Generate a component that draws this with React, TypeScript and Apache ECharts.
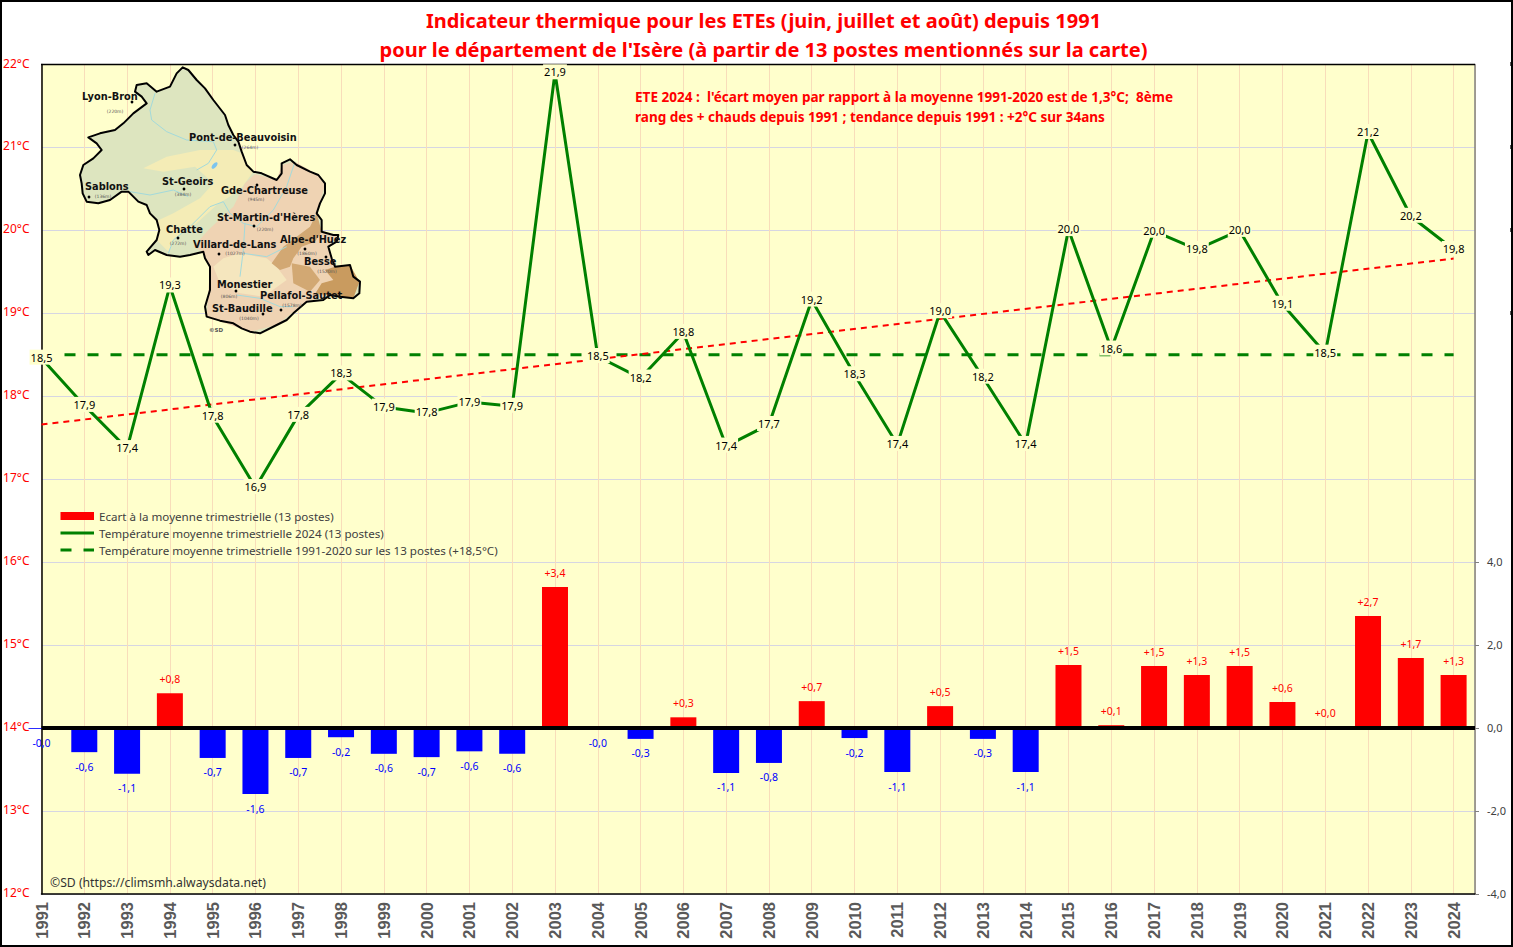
import React, { useEffect, useRef } from "react";
import * as echarts from "echarts";

const years = [1991,1992,1993,1994,1995,1996,1997,1998,1999,2000,2001,2002,2003,2004,2005,2006,2007,2008,2009,2010,2011,2012,2013,2014,2015,2016,2017,2018,2019,2020,2021,2022,2023,2024];
const temperatures = [18.46,17.89,17.37,19.33,17.76,16.9,17.77,18.27,17.87,17.8,17.93,17.88,21.9,18.48,18.22,18.77,17.4,17.66,19.16,18.26,17.42,19.02,18.23,17.42,20.01,18.57,19.99,19.77,20.0,19.11,18.52,21.18,20.17,19.77];
const anomalies = [-0.02,-0.58,-1.1,0.84,-0.72,-1.59,-0.72,-0.22,-0.62,-0.7,-0.56,-0.62,3.4,-0.02,-0.26,0.26,-1.08,-0.84,0.65,-0.24,-1.06,0.53,-0.26,-1.06,1.52,0.07,1.5,1.28,1.5,0.63,0.02,2.7,1.69,1.28];
const normalValue = 18.5;
const trendYears = [1991, 2024];
const trendValues = [17.66, 19.66];
const rightTicks = [-4, -2, 0, 2, 4];

const nameBars = "Ecart à la moyenne trimestrielle (13 postes)";
const nameLine = "Température moyenne trimestrielle 2024 (13 postes)";
const nameNormal = "Température moyenne trimestrielle 1991-2020 sur les 13 postes (+18,5°C)";
const titleLines = ["Indicateur thermique pour les ETEs (juin, juillet et août) depuis 1991", "pour le département de l'Isère (à partir de 13 postes mentionnés sur la carte)"];
const noteLines = ["ETE 2024 :  l'écart moyen par rapport à la moyenne 1991-2020 est de 1,3°C;  8ème", "rang des + chauds depuis 1991 ; tendance depuis 1991 : +2°C sur 34ans"];

// Illustration: the map of Isère, traced in the picture (page pixels x3, from y=50)
const mapOutline = [[548,52],[565,60],[590,90],[615,115],[640,150],[675,195],[685,225],[700,255],[715,275],[725,305],[740,345],[760,365],[785,370],[830,390],[845,370],[845,340],[870,328],[890,345],[930,365],[955,375],[975,400],[975,430],[960,460],[950,490],[965,510],[965,545],[1000,555],[1015,555],[1010,575],[985,590],[995,625],[1005,650],[1050,645],[1060,680],[1080,695],[1078,730],[1060,745],[1020,740],[990,735],[970,750],[920,755],[880,790],[860,810],[830,825],[780,850],[750,845],[725,835],[700,820],[660,812],[620,800],[615,770],[630,720],[630,650],[615,625],[610,605],[570,615],[540,620],[500,615],[465,600],[445,615],[440,605],[470,570],[478,540],[470,510],[450,490],[440,465],[415,455],[385,425],[365,425],[330,450],[295,460],[260,455],[248,430],[245,400],[240,375],[250,345],[280,325],[305,300],[290,280],[265,262],[300,250],[345,240],[370,220],[400,190],[440,160],[425,140],[405,125],[410,105],[440,100],[470,125],[510,110],[530,70]];
const mapYellow = [[430,355],[500,320],[600,300],[700,300],[725,310],[740,345],[760,365],[720,420],[650,465],[590,520],[530,560],[505,605],[470,570],[478,540],[472,512],[520,490],[600,445],[640,400],[585,350],[490,365]];
const mapPink = [[580,590],[625,540],[700,470],[735,400],[765,372],[830,390],[845,345],[885,335],[955,375],[975,405],[950,490],[965,545],[1010,560],[985,590],[1005,650],[1050,645],[1078,695],[1060,745],[990,735],[920,755],[830,825],[750,845],[620,800],[630,650],[610,605]];
const mapPale = [[720,610],[800,625],[830,650],[860,690],[790,740],[720,730],[660,700],[640,650],[670,625]];
const mapBrownA = [[1005,650],[1050,645],[1078,695],[1060,745],[990,735],[945,732],[965,700],[1000,690],[975,660]];
const mapBrownB = [[950,490],[965,545],[945,575],[905,590],[880,625],[870,650],[840,660],[815,640],[850,590],[890,560],[930,530]];
const mapBrownC = [[875,640],[930,650],[960,690],[930,725],[880,700]];
const mapRivers = [
  [[465,130],[450,180],[455,210],[500,245],[560,270],[640,275],[650,300],[625,340],[590,360]],
  [[885,335],[860,410],[820,480],[770,530],[730,520],[690,490],[670,455],[630,470],[570,530],[520,570],[505,610]],
  [[735,520],[730,600],[720,680]],
  [[390,425],[450,435],[520,420],[565,440]],
  [[730,610],[800,620],[860,590]],
  [[710,735],[780,745],[840,770],[880,770]],
];
const stationNames = ["Lyon-Bron","Pont-de-Beauvoisin","St-Geoirs","Gde-Chartreuse","Sablons","St-Martin-d'Hères","Chatte","Villard-de-Lans","Alpe-d'Huez","Besse","Monestier","Pellafol-Sautet","St-Baudille"];
const stationAltitudes = ["(220m)","(264m)","(384m)","(945m)","(136m)","(220m)","(272m)","(1027m)","(1860m)","(1520m)","(806m)","(1578m)","(1040m)"];
const stationLabelPos = [[82,96],[189,137],[162,181],[221,190],[85,186],[217,217],[166,229],[193,244],[280,239],[304,261],[217,284],[260,295],[212,308]];
const stationDotPos = [[132,102],[235,145],[184,189],[257,185],[89,197],[254,226],[178,238],[219,254],[305,249],[326,257],[236,291],[281,310],[263,314]];
const stationAltPos = [[115,111],[250,147],[183,194],[256,199],[103,196],[265,229],[178,243],[235,253],[307,253],[327,271],[229,296],[292,305],[249,318]];

const PLOT_BG = "#FFFFCC";
const GREEN = "#008000";
const comma = (v: number, d = 1) => v.toFixed(d).replace(".", ",");
const toPage = (p: number[]) => [p[0] / 3, 50 + p[1] / 3];

function mapGraphics() {
  const poly = (pts: number[][], fill: string) => ({ type: "polygon", z: 1, silent: true, shape: { points: pts.map(toPage) }, style: { fill } });
  const out: any[] = [
    poly(mapOutline, "#DDE5BF"),
    poly(mapYellow, "#F4ECB6"),
    poly(mapPink, "#EFD3B3"),
    poly(mapPale, "#F5E6BE"),
    poly(mapBrownA, "#C99B5F"),
    poly(mapBrownB, "#D2A873"),
    poly(mapBrownC, "#D2A873"),
  ];
  mapRivers.forEach((r) => out.push({ type: "polyline", z: 1, silent: true, shape: { points: r.map(toPage) }, style: { stroke: "#A3DADB", lineWidth: 1, fill: "none" } }));
  out.push({ type: "ellipse", z: 1, silent: true, shape: { cx: 214.5, cy: 165.5, rx: 2, ry: 4 }, rotation: -0.7, originX: 214.5, originY: 165.5, style: { fill: "#7CC4EE" } });
  out.push({ type: "polygon", z: 1, silent: true, shape: { points: mapOutline.map(toPage) }, style: { fill: "none", stroke: "#000", lineWidth: 2, lineJoin: "round" } });
  stationNames.forEach((name, i) => {
    out.push({ type: "circle", z: 1, silent: true, shape: { cx: stationDotPos[i][0], cy: stationDotPos[i][1], r: 1.4 }, style: { fill: "#000" } });
    out.push({ type: "text", z: 1, silent: true, x: stationLabelPos[i][0], y: stationLabelPos[i][1], style: { text: name, fill: "#111", font: "bold 9.8px 'DejaVu Sans'", textAlign: "left", textVerticalAlign: "middle" } });
    out.push({ type: "text", z: 1, silent: true, x: stationAltPos[i][0], y: stationAltPos[i][1], style: { text: stationAltitudes[i], fill: "#555", font: "4.5px 'DejaVu Sans'", textAlign: "center", textVerticalAlign: "middle" } });
  });
  out.push({ type: "text", z: 1, silent: true, x: 209, y: 330, style: { text: "©SD", fill: "#555", font: "bold 5.5px 'DejaVu Sans'", textVerticalAlign: "middle" } });
  return out;
}

export default function App() {
  const ref = useRef<HTMLDivElement>(null);
  useEffect(() => {
    document.body.style.margin = "0";
    document.body.style.overflow = "hidden";
    const chart = echarts.init(ref.current!, undefined, { renderer: "svg" });
    const edgeMarks = [64, 147, 230, 313].map((y) => ({ type: "rect", z: 6, silent: true, shape: { x: 1510, y: y - 2, width: 1.5, height: 4 }, style: { fill: "#555" } }));
    chart.setOption({
      animation: false,
      backgroundColor: "#fff",
      textStyle: { fontFamily: "'Noto Sans'" },
      title: { show: false },
      grid: { left: 41.5, right: 38, top: 64.5, bottom: 53, show: true, backgroundColor: PLOT_BG, borderWidth: 0 },
      legend: {
        data: [
          { name: nameBars, icon: "rect" },
          { name: nameLine, itemStyle: { opacity: 0 }, lineStyle: { width: 3, color: GREEN } },
          { name: nameNormal, itemStyle: { opacity: 0 }, lineStyle: { width: 3, color: GREEN, type: [11, 12] } },
        ],
        orient: "vertical", left: 54, top: 505, itemWidth: 33.5, itemHeight: 8, itemGap: 5,
        selectedMode: false,
        textStyle: { fontFamily: "'Noto Sans'", fontSize: 11.6, color: "#404040" },
      },
      xAxis: {
        type: "value", min: 1991, max: 2024.5, interval: 1,
        axisLine: { onZero: false, lineStyle: { color: "#000", width: 1.5 } },
        axisTick: { show: false },
        axisLabel: {
          rotate: 90, margin: 8, color: "#595959", fontFamily: "'Liberation Sans'", fontWeight: "bold", fontSize: 16.5,
          showMinLabel: true, showMaxLabel: false, padding: [4, 0, 0, 0],
          formatter: (v: number) => (Number.isInteger(v) ? String(v) : ""),
        },
        splitLine: { show: true, lineStyle: { color: "#F8DDBA", width: 1 } },
      },
      yAxis: [
        {
          type: "value", min: 12, max: 22, interval: 1, position: "left",
          axisLine: { show: true, onZero: false, lineStyle: { color: "#000", width: 1.5 } },
          axisTick: { show: false },
          axisLabel: { color: "#FF0000", fontSize: 12, margin: 12, verticalAlign: "bottom", lineHeight: 3, formatter: (v: number) => `${v}°C` },
          splitLine: { show: true, lineStyle: { color: "#D6D6E2", width: 1 } },
        },
        {
          type: "value", min: -4, max: 16, interval: 2, position: "right",
          axisLine: { show: true, onZero: false, lineStyle: { color: "#808080", width: 1.5 } },
          axisTick: { show: true, length: 4, customValues: rightTicks, lineStyle: { color: "#808080" } },
          axisLabel: { color: "#404040", fontSize: 11, margin: 12, verticalAlign: "bottom", lineHeight: 2, customValues: rightTicks, formatter: (v: number) => comma(v) },
          splitLine: { show: false },
        },
      ],
      series: [
        {
          name: nameBars, type: "bar", yAxisIndex: 1, barWidth: 26, itemStyle: { color: "#FF0000" },
          data: anomalies.map((v, i) => ({
            value: [years[i], v],
            itemStyle: { color: v < 0 ? "#0000FF" : "#FF0000" },
            label: {
              show: true, position: v < 0 ? "bottom" : "top", distance: v < 0 ? 9 : 8.5,
              color: v < 0 ? "#0000FF" : "#FF0000", fontSize: 10.5,
              formatter: () => (v < 0 ? "" : "+") + comma(v),
            },
          })),
          markLine: {
            silent: true, symbol: "none", label: { show: false }, z: 5,
            lineStyle: { color: "#000", width: 4, type: "solid" },
            data: [{ yAxis: 0 }],
          },
        },
        {
          name: nameNormal, type: "line", symbol: "none", lineStyle: { color: GREEN, width: 3, type: [11, 12] },
          itemStyle: { color: GREEN },
          data: years.map((y) => [y, normalValue]),
        },
        {
          name: "Tendance", type: "line", symbol: "none", lineStyle: { color: "#FF0000", width: 2, type: [6, 5] },
          itemStyle: { color: "#FF0000" },
          data: trendYears.map((y, i) => [y, trendValues[i]]),
        },
        {
          name: nameLine, type: "line", symbol: "circle", symbolSize: 1, clip: false,
          lineStyle: { color: GREEN, width: 3 }, itemStyle: { color: GREEN },
          label: {
            show: true, position: "inside", offset: [0, -1], color: "#000", fontSize: 11, backgroundColor: PLOT_BG, padding: [2, 1],
            formatter: (p: any) => comma(p.value[1]),
          },
          data: years.map((y, i) => [y, temperatures[i]]),
        },
      ],
      graphic: [
        { type: "line", z: 1, silent: true, shape: { x1: 41, y1: 64.5, x2: 1475, y2: 64.5 }, style: { stroke: "#000", lineWidth: 1.5 } },
        { type: "text", z: 6, silent: true, x: 763.5, y: 20, style: { text: titleLines[0], fill: "#FF0000", font: "bold 20px 'Noto Sans'", textAlign: "center", textVerticalAlign: "middle" } },
        { type: "text", z: 6, silent: true, x: 763.5, y: 49, style: { text: titleLines[1], fill: "#FF0000", font: "bold 20px 'Noto Sans'", textAlign: "center", textVerticalAlign: "middle" } },
        { type: "text", z: 6, silent: true, x: 635, y: 97, style: { text: noteLines[0], fill: "#FF0000", font: "bold 13.55px 'Noto Sans'", textVerticalAlign: "middle" } },
        { type: "text", z: 6, silent: true, x: 635, y: 117, style: { text: noteLines[1], fill: "#FF0000", font: "bold 13.55px 'Noto Sans'", textVerticalAlign: "middle" } },
        { type: "text", z: 6, silent: true, x: 50, y: 882, style: { text: "©SD (https://climsmh.alwaysdata.net)", fill: "#333", font: "12.2px 'Noto Sans'", textVerticalAlign: "middle" } },
        ...mapGraphics(),
        ...edgeMarks,
        { type: "rect", z: 7, silent: true, shape: { x: 1, y: 1, width: 1511, height: 945 }, style: { fill: "none", stroke: "#000", lineWidth: 2 } },
      ],
    });
    return () => chart.dispose();
  }, []);
  return <div ref={ref} style={{ width: 1513, height: 947 }} />;
}
